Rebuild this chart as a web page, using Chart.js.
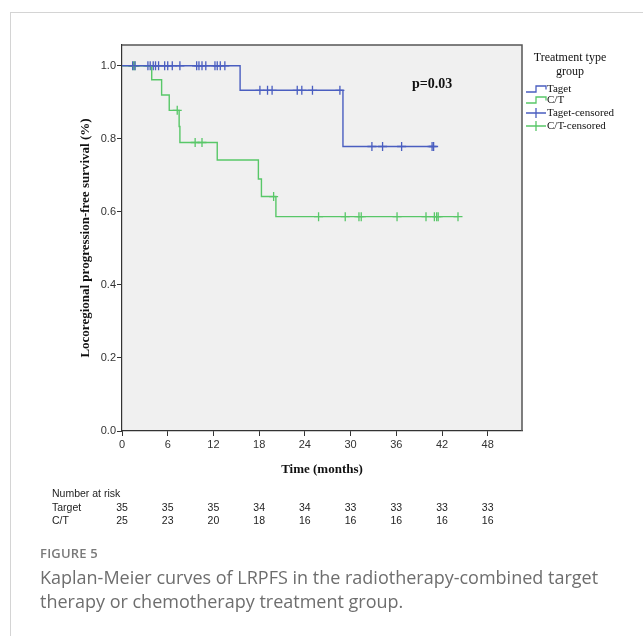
<!DOCTYPE html>
<html>
<head>
<meta charset="utf-8">
<script src="https://cdn.jsdelivr.net/npm/chart.js@4/dist/chart.umd.min.js"></script>
<style>
  html, body { margin: 0; padding: 0; background: #fff; }
  #wrap { position: relative; width: 643px; height: 636px; overflow: hidden; }
  #frame { position: absolute; left: 10px; top: 12px; width: 640px; height: 640px; border-top: 1px solid #d4d4d4; border-left: 1px solid #d4d4d4; }
  canvas { position: absolute; left: 0; top: 0; }
  #figlabel { position: absolute; left: 40px; top: 544px; font-family: "Open Sans", sans-serif; font-weight: 600; font-size: 13px; color: #7a7a7a; letter-spacing: 0.2px; }
  #caption { position: absolute; left: 40px; top: 565px; width: 595px; font-family: "Open Sans", sans-serif; font-size: 18px; line-height: 24px; color: #6e6e6e; }
</style>
</head>
<body>
<div id="wrap">
  <div id="frame"></div>
  <canvas id="c" width="643" height="636"></canvas>
  <div id="figlabel">FIGURE 5</div>
  <div id="caption">Kaplan-Meier curves of LRPFS in the radiotherapy-combined target therapy or chemotherapy treatment group.</div>
</div>
<script>
// ---- Data ----
const xTickValues = [0, 6, 12, 18, 24, 30, 36, 42, 48];
const yTickValues = [0, 0.2, 0.4, 0.6, 0.8, 1.0];

// Kaplan-Meier step points (month, survival)
const targetTimes = [0, 15.5, 29.0, 40.8];
const targetSurv  = [1.0, 0.933, 0.779, 0.779];
const ctTimes = [0, 3.9, 5.2, 6.2, 7.5, 7.6, 12.5, 17.9, 18.3, 20.2, 44.1];
const ctSurv  = [1.0, 0.962, 0.920, 0.878, 0.834, 0.790, 0.742, 0.690, 0.642, 0.587, 0.587];

// Censored observations (month, survival)
const targetCensorTimes = [1.4, 1.7, 3.4, 3.7, 4.1, 4.4, 4.8, 5.6, 6.0, 6.6, 7.6, 9.8, 10.1, 10.5, 11.0, 12.2, 12.5, 12.9, 13.5,
                           18.1, 19.1, 19.7, 23.0, 23.6, 25.0, 28.6,
                           32.8, 34.2, 36.7, 40.7, 40.9];
const targetCensorSurv  = [1, 1, 1, 1, 1, 1, 1, 1, 1, 1, 1, 1, 1, 1, 1, 1, 1, 1, 1,
                           0.933, 0.933, 0.933, 0.933, 0.933, 0.933, 0.933,
                           0.779, 0.779, 0.779, 0.779, 0.779];
const ctCensorTimes = [1.5, 1.7, 7.25, 9.6, 10.5, 19.9, 25.8, 29.3, 31.1, 31.4, 36.1, 39.9, 41.0, 41.3, 41.5, 44.1];
const ctCensorSurv  = [1, 1, 0.878, 0.790, 0.790, 0.642, 0.587, 0.587, 0.587, 0.587, 0.587, 0.587, 0.587, 0.587, 0.587, 0.587];

// Number at risk
const riskTimes  = [0, 6, 12, 18, 24, 30, 36, 42, 48];
const riskTarget = [35, 35, 35, 34, 34, 33, 33, 33, 33];
const riskCT     = [25, 23, 20, 18, 16, 16, 16, 16, 16];

const pValueText = "p=0.03";
const legendTitle = ["Treatment type", "group"];
const legendLabels = ["Taget", "C/T", "Taget-censored", "C/T-censored"];
const yTitle = "Locoregional progression-free survival (%)";
const xTitle = "Time (months)";

// ---- Styling ----
const BLUE = "#4a5ec0";
const GREEN = "#58c768";
const SERIF = "'Liberation Serif', 'Times New Roman', serif";
const SANS = "'Liberation Sans', Arial, sans-serif";

const zip = (xs, ys) => xs.map((x, i) => ({ x, y: ys[i] }));

const decorPlugin = {
  id: 'decor',
  beforeDraw(chart) {
    const { ctx, chartArea: a } = chart;
    ctx.save();
    ctx.fillStyle = "#f0f0f0";
    ctx.fillRect(a.left, a.top, a.right - a.left, a.bottom - a.top);
    ctx.restore();
  },
  afterDraw(chart) {
    const { ctx, chartArea: a, scales } = chart;
    ctx.save();
    // frame top/right
    ctx.strokeStyle = "#555";
    ctx.lineWidth = 1.5;
    ctx.beginPath();
    ctx.moveTo(a.left, a.top);
    ctx.lineTo(a.right, a.top);
    ctx.lineTo(a.right, a.bottom);
    ctx.stroke();

    // p value
    ctx.fillStyle = "#111";
    ctx.font = "bold 14px " + SERIF;
    ctx.textAlign = "left";
    ctx.textBaseline = "middle";
    ctx.fillText(pValueText, 412, 84);

    // axis titles
    ctx.font = "bold 13px " + SERIF;
    ctx.textAlign = "center";
    ctx.fillText(xTitle, (a.left + a.right) / 2, 470);
    ctx.save();
    ctx.translate(86, 238);
    ctx.rotate(-Math.PI / 2);
    ctx.fillText(yTitle, 0, 0);
    ctx.restore();

    // legend
    ctx.font = "12px " + SERIF;
    ctx.fillStyle = "#111";
    ctx.textAlign = "center";
    ctx.fillText(legendTitle[0], 570, 58);
    ctx.fillText(legendTitle[1], 570, 72);
    ctx.font = "11px " + SERIF;
    ctx.textAlign = "left";
    const ly = [89, 100, 113, 126];
    const lc = [BLUE, GREEN, BLUE, GREEN];
    ctx.lineWidth = 1.3;
    for (let i = 0; i < 4; i++) {
      ctx.strokeStyle = lc[i];
      ctx.beginPath();
      if (i < 2) {
        ctx.moveTo(526, ly[i] + 3);
        ctx.lineTo(536, ly[i] + 3);
        ctx.lineTo(536, ly[i] - 3);
        ctx.lineTo(546, ly[i] - 3);
        ctx.lineTo(546, ly[i] + 0.5);
      } else {
        ctx.moveTo(526, ly[i]);
        ctx.lineTo(546, ly[i]);
        ctx.moveTo(536, ly[i] - 5);
        ctx.lineTo(536, ly[i] + 5);
      }
      ctx.stroke();
      ctx.fillText(legendLabels[i], 547, ly[i]);
    }

    // number at risk table
    const xs = scales.x;
    ctx.font = "10.5px " + SANS;
    ctx.fillStyle = "#222";
    ctx.textAlign = "left";
    ctx.fillText("Number at risk", 52, 494);
    ctx.fillText("Target", 52, 508);
    ctx.fillText("C/T", 52, 521);
    ctx.textAlign = "center";
    riskTimes.forEach((t, i) => {
      const px = xs.getPixelForValue(t);
      ctx.fillText(String(riskTarget[i]), px, 508);
      ctx.fillText(String(riskCT[i]), px, 521);
    });
    ctx.restore();
  }
};

new Chart(document.getElementById('c'), {
  type: 'line',
  data: {
    datasets: [
      { label: 'Taget', data: zip(targetTimes, targetSurv), stepped: 'before', borderColor: BLUE, borderWidth: 1.4, pointRadius: 0, fill: false },
      { label: 'C/T', data: zip(ctTimes, ctSurv), stepped: 'before', borderColor: GREEN, borderWidth: 1.4, pointRadius: 0, fill: false },
      { label: 'Taget-censored', data: zip(targetCensorTimes, targetCensorSurv), showLine: false, pointStyle: 'cross', pointRadius: 4.5, borderColor: BLUE, borderWidth: 1.3, backgroundColor: BLUE },
      { label: 'C/T-censored', data: zip(ctCensorTimes, ctCensorSurv), showLine: false, pointStyle: 'cross', pointRadius: 4.5, borderColor: GREEN, borderWidth: 1.3, backgroundColor: GREEN }
    ]
  },
  options: {
    responsive: false,
    animation: false,
    events: [],
    layout: { padding: { top: 45, right: 121, bottom: 0, left: 0 } },
    plugins: { legend: { display: false }, tooltip: { enabled: false } },
    scales: {
      x: {
        type: 'linear', min: 0, max: 52.5,
        afterBuildTicks: s => { s.ticks = xTickValues.map(v => ({ value: v })); },
        afterFit: s => { s.height = 205; },
        ticks: { color: '#333', font: { size: 11, family: SANS }, padding: 2, maxRotation: 0, callback: v => String(v) },
        grid: { drawOnChartArea: false, drawTicks: true, tickLength: 5, color: '#333', lineWidth: 1 },
        border: { display: true, color: '#333', width: 1.2 }
      },
      y: {
        type: 'linear', min: 0, max: 1.057,
        afterBuildTicks: s => { s.ticks = yTickValues.map(v => ({ value: v })); },
        afterFit: s => { s.width = 122; },
        ticks: { color: '#333', font: { size: 11, family: SANS }, padding: 1, callback: v => Number(v).toFixed(1) },
        grid: { drawOnChartArea: false, drawTicks: true, tickLength: 5, color: '#333', lineWidth: 1 },
        border: { display: true, color: '#333', width: 1.2 }
      }
    }
  },
  plugins: [decorPlugin]
});
</script>
</body>
</html>
